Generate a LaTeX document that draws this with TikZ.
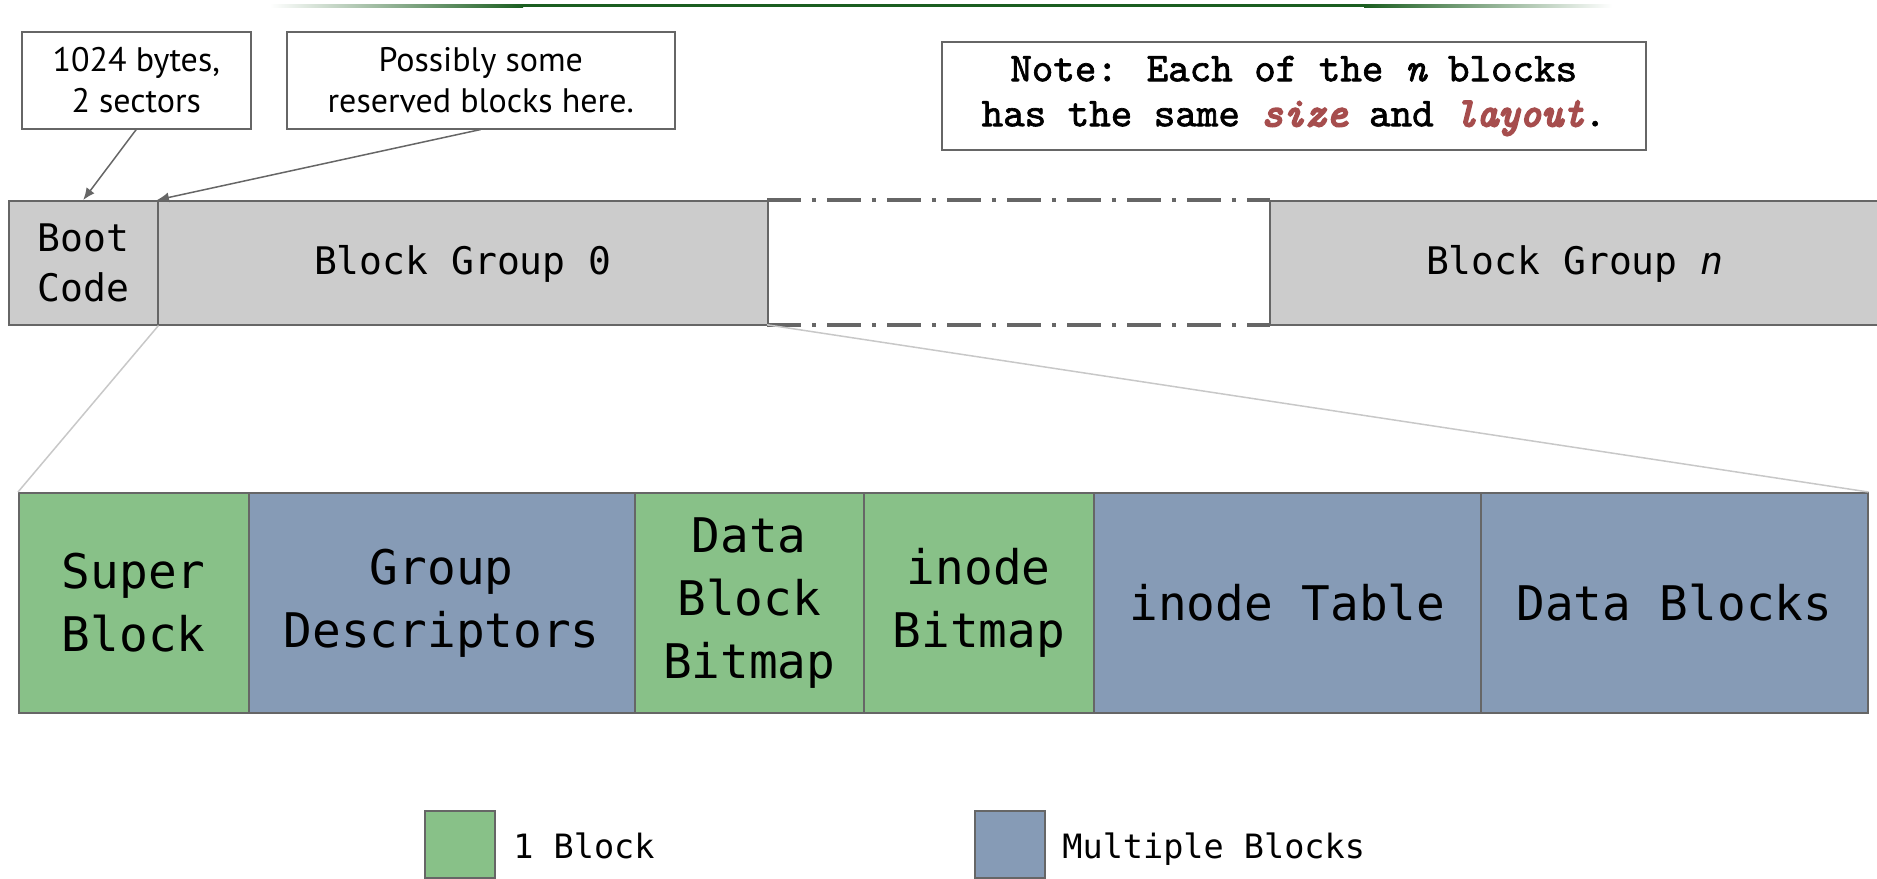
\documentclass[tikz,border=0pt]{standalone}
\usepackage{fontspec}
\usetikzlibrary{arrows.meta}
\newfontfamily\dmono{DejaVu Sans Mono}
\newfontfamily\callfont{PT Sans}
\newfontfamily\notefont{lmmono10-regular.otf}[FakeBold=1.6]
\newfontfamily\notebi{lmmono10-italic.otf}[FakeBold=5]
\newfontfamily\noteit{lmmono10-italic.otf}[FakeBold=1.6]
\definecolor{bgray}{HTML}{666666}
\definecolor{fgray}{HTML}{CCCCCC}
\definecolor{gfill}{HTML}{88C188}
\definecolor{bfill}{HTML}{869BB6}
\definecolor{dgreen}{HTML}{1B5E20}
\definecolor{nred}{HTML}{A64D4D}
\definecolor{zgray}{HTML}{C8C8C8}
\begin{document}
\begin{tikzpicture}[x=0.5pt,y=-0.5pt,
  topcell/.style={draw=bgray, line width=0.75pt, fill=fgray, anchor=north west, inner sep=0pt,
    minimum height=62pt, align=center, font=\dmono\fontsize{19}{25}\selectfont},
  lowcell/.style={draw=bgray, line width=0.75pt, anchor=north west, inner sep=0pt,
    minimum height=110pt, align=center, font=\dmono\fontsize{23.85}{31.5}\selectfont},
  onecell/.style={lowcell, fill=gfill},
  manycell/.style={lowcell, fill=bfill},
  callout/.style={draw=bgray, line width=0.75pt, fill=white, anchor=north west, inner sep=0pt,
    minimum height=48.5pt, align=center, font=\callfont\fontsize{17}{20.5}\selectfont},
  arr/.style={draw=bgray, line width=0.75pt, -{Latex[length=6pt,width=5pt]}},
  zoomline/.style={draw=zgray, line width=0.75pt},
  legsq/.style={draw=bgray, line width=0.75pt, anchor=north west, minimum width=35pt,
    minimum height=33.5pt, inner sep=0pt},
  legtxt/.style={anchor=base west, inner sep=0pt, font=\dmono\fontsize{16.75}{20}\selectfont},
  dashdot/.style={draw=bgray, line width=1.75pt, dash pattern=on 17pt off 5.5pt on 2pt off 5.5pt},
  capcenter/.style={text height=12pt, text depth=0pt}
]
\useasboundingbox (0,0) rectangle (1877,878);

% top decorative line
\shade[left color=white, right color=dgreen] (270,4) rectangle (523,7);
\fill[dgreen] (523,4) rectangle (1364,7);
\shade[left color=dgreen, right color=white] (1364,4) rectangle (1612,7);

% callouts
\node[callout, minimum width=114.5pt] (c1) at (21,31) {1024 bytes,\\2 sectors};
\node[callout, minimum width=194pt] (c2) at (286,31) {Possibly some\\reserved blocks here.};

% note
\node[draw=bgray, line width=0.75pt, fill=white, anchor=north west, minimum width=352pt,
  minimum height=54pt, inner sep=0pt, align=center,
  font=\notefont\fontsize{20.5}{22.5}\selectfont] (note) at (941,41)
  {Note: Each of the {\noteit n} blocks\\has the same {\color{nred}\notebi size} and {\color{nred}\notebi layout}.};

% top bar
\node[anchor=north west, fill=white, inner sep=0pt, minimum width=251pt, minimum height=62pt] (dash) at (767,200) {};
\node[topcell, minimum width=74.5pt] (boot) at (8,200) {Boot\\Code};
\node[topcell, capcenter, align=none, minimum width=305pt] (bg0) at (157,200) {Block Group 0};
\node[topcell, capcenter, align=none, minimum width=305pt] (bgn) at (1269,200) {Block Group \textit{n}};
\draw[dashdot] (dash.north west) -- (dash.north east);
\draw[dashdot] (dash.south west) -- (dash.south east);

% bottom row
\node[onecell, minimum width=115pt] (sb) at (18,492) {Super\\Block};
\node[manycell, minimum width=193pt] (gd) at (248,492) {Group\\Descriptors};
\node[onecell, minimum width=114.5pt] (dbb) at (634,492) {Data\\Block\\Bitmap};
\node[onecell, minimum width=115pt] (ib) at (863,492) {inode\\Bitmap};
\node[manycell, minimum width=193.5pt] (it) at (1093,492) {inode Table};
\node[manycell, minimum width=193.5pt] (db) at (1480,492) {Data Blocks};

% zoom lines
\draw[zoomline] (boot.south east) -- (sb.north west);
\draw[zoomline] (dash.south west) -- (db.north east);

% arrows
\draw[arr] (c1.south) -- (boot.north);
\draw[arr] (c2.south) -- (bg0.north west);

% legend
\node[legsq, fill=gfill] (lg1) at (424,810) {};
\node[legtxt] (lt1) at (513,858) {1 Block};
\node[legsq, fill=bfill] (lg2) at (974,810) {};
\node[legtxt] (lt2) at (1062,858) {Multiple Blocks};
\end{tikzpicture}
\end{document}
